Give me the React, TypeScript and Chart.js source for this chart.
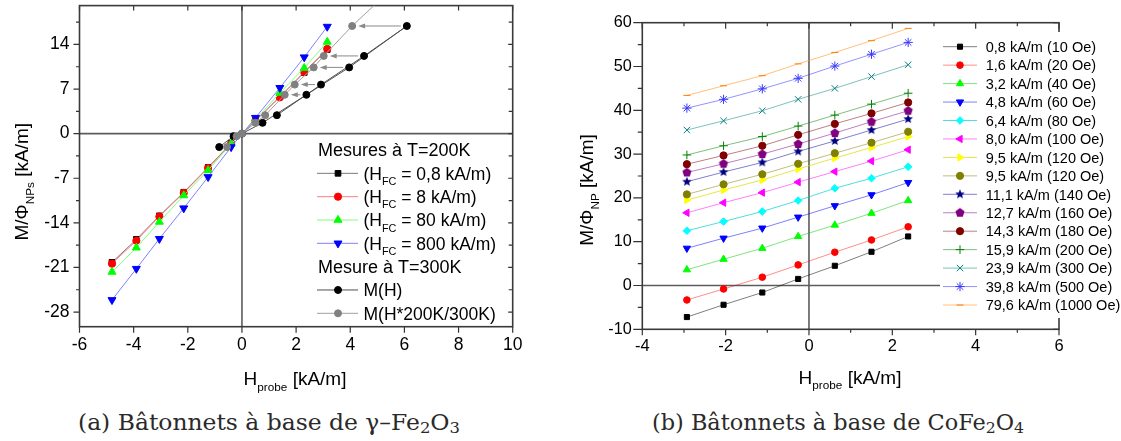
import React, { useEffect, useLayoutEffect, useRef } from 'react';
import { Chart, registerables } from 'chart.js';
import { drawPoint } from 'chart.js/helpers';

Chart.register(...registerables);

const SANS = "'Liberation Sans', Arial, sans-serif";
const SERIF = "'DejaVu Serif', serif";

// ---------------- (a) gamma-Fe2O3 data ----------------
const aX200 = [-4.8, -3.9, -3.05, -2.15, -1.25, -0.4, 0.5, 1.4, 2.3, 3.15];
const aHfc08 = [-20.2, -16.6, -12.9, -9.2, -5.3, -1.5, 2.0, 5.8, 9.6, 13.2];
const aHfc8 = [-20.4, -16.8, -13.0, -9.3, -5.4, -1.6, 2.1, 5.7, 9.7, 13.3];
const aHfc80 = [-21.7, -17.9, -13.85, -9.7, -5.75, -1.6, 2.2, 6.4, 10.3, 14.4];
const aHfc800 = [-26.1, -21.2, -16.5, -11.7, -6.8, -2.1, 2.5, 7.2, 12.0, 16.8];
const aHfcLabels = ['0,8 kA/m)', '8 kA/m)', '80 kA/m)', '800 kA/m)'];
const aMH_X = [-0.84, -0.31, 0, 0.76, 2.38, 3.96, 6.09, 4.51, 2.92, 1.29];
const aMH_Y = [-2.1, -0.4, 0, 1.7, 6.1, 10.4, 16.9, 12.2, 7.7, 2.9];
const aMHs_X = [-0.55, -0.2, 0, 0.5, 0.86, 1.58, 1.95, 2.65, 3.02, 4.07, 5.3];
const aMHs_Y = [-2.1, -0.4, 0, 1.7, 2.9, 6.1, 7.7, 10.4, 12.2, 16.9, 21.8];
const aArrowY = [16.9, 12.2, 10.4, 7.7, 6.1];
const aArrowFrom = [6.09, 4.51, 3.96, 2.92, 2.38];
const aArrowTo = [4.07, 3.02, 2.65, 1.95, 1.58];
const aXTicks = [-6, -4, -2, 0, 2, 4, 6, 8, 10];
const aYTicks = [-28, -21, -14, -7, 0, 7, 14];
const aYMinor = [-24.5, -17.5, -10.5, -3.5, 3.5, 10.5, 17.5];

// ---------------- (b) CoFe2O4 data ----------------
const bX = [-2.93, -2.05, -1.12, -0.26, 0.62, 1.5, 2.38];
const b08 = [-7.2, -4.4, -1.6, 1.5, 4.5, 7.7, 11.2];
const b16 = [-3.3, -0.8, 1.9, 4.7, 7.6, 10.4, 13.4];
const b32 = [3.6, 6.0, 8.5, 11.2, 13.8, 16.5, 19.4];
const b48 = [8.5, 10.8, 13.1, 15.6, 18.2, 20.7, 23.5];
const b64 = [12.5, 14.6, 16.9, 19.4, 22.2, 24.5, 27.1];
const b80 = [16.6, 18.9, 21.2, 23.6, 26.0, 28.4, 31.0];
const b95a = [19.5, 21.8, 24.1, 26.6, 29.1, 31.5, 34.0];
const b95b = [20.8, 23.1, 25.4, 27.8, 30.2, 32.6, 35.1];
const b111 = [23.7, 25.9, 28.1, 30.6, 33.0, 35.5, 38.0];
const b127 = [25.8, 27.8, 30.0, 32.3, 34.8, 37.4, 39.9];
const b143 = [27.7, 29.7, 31.9, 34.4, 36.9, 39.3, 41.8];
const b159 = [29.8, 31.9, 34.0, 36.4, 38.9, 41.4, 43.9];
const b239 = [35.5, 37.6, 39.9, 42.5, 45.0, 47.7, 50.4];
const b398 = [40.5, 42.5, 44.9, 47.3, 50.1, 52.8, 55.5];
const b796 = [43.4, 45.6, 47.9, 50.6, 53.2, 55.9, 58.7];
const bLabels = [
  '0,8 kA/m (10 Oe)', '1,6 kA/m (20 Oe)', '3,2 kA/m (40 Oe)', '4,8 kA/m (60 Oe)',
  '6,4 kA/m (80 Oe)', '8,0 kA/m (100 Oe)', '9,5 kA/m (120 Oe)', '9,5 kA/m (120 Oe)',
  '11,1 kA/m (140 Oe)', '12,7 kA/m (160 Oe)', '14,3 kA/m (180 Oe)', '15,9 kA/m (200 Oe)',
  '23,9 kA/m (300 Oe)', '39,8 kA/m (500 Oe)', '79,6 kA/m (1000 Oe)',
];
const bXTicks = [-4, -2, 0, 2, 4, 6];
const bXMinor = [-3, -1, 1, 3, 5];
const bYTicks = [-10, 0, 10, 20, 30, 40, 50, 60];
const bYMinor = [-5, 5, 15, 25, 35, 45, 55];

// ---------------- helpers ----------------
type Part = { t: string; sub?: boolean };

function richWidth(ctx: CanvasRenderingContext2D, parts: Part[], size: number) {
  let w = 0;
  for (const p of parts) {
    ctx.font = `${p.sub ? size * 0.62 : size}px ${SANS}`;
    w += ctx.measureText(p.t).width;
  }
  return w;
}

function drawRich(ctx: CanvasRenderingContext2D, parts: Part[], x: number, y: number, size: number, align: 'left' | 'center') {
  const w = richWidth(ctx, parts, size);
  let cx = align === 'center' ? x - w / 2 : x;
  ctx.textAlign = 'left';
  ctx.textBaseline = 'alphabetic';
  for (const p of parts) {
    const s = p.sub ? size * 0.62 : size;
    ctx.font = `${s}px ${SANS}`;
    ctx.fillText(p.t, cx, y + (p.sub ? size * 0.3 : 0));
    cx += ctx.measureText(p.t).width;
  }
}

function makeShape(color: string, n: number, outer: number, inner: number | null) {
  const c = document.createElement('canvas');
  const s = Math.ceil(outer * 2 + 2);
  c.width = s;
  c.height = s;
  const g = c.getContext('2d')!;
  g.fillStyle = color;
  g.beginPath();
  const count = inner ? n * 2 : n;
  for (let k = 0; k < count; k++) {
    const r = inner ? (k % 2 ? inner : outer) : outer;
    const ang = -Math.PI / 2 + (k * 2 * Math.PI) / count;
    const px = s / 2 + r * Math.cos(ang);
    const py = s / 2 + r * Math.sin(ang);
    if (k === 0) g.moveTo(px, py); else g.lineTo(px, py);
  }
  g.closePath();
  g.fill();
  return c;
}

type TickCfg = {
  xMaj: number[]; xMin: number[]; yMaj: number[]; yMin: number[];
  xOut: [number, number]; xIn: [number, number]; yOut: [number, number]; yIn: [number, number];
};

function axesPlugin(t: TickCfg) {
  return {
    id: 'axesDeco',
    beforeDatasetsDraw(chart: any) {
      const { ctx, chartArea: a } = chart;
      const xs = chart.scales.x;
      const ys = chart.scales.y;
      ctx.save();
      ctx.strokeStyle = '#5c5c5c';
      ctx.lineWidth = 1.6;
      const x0 = xs.getPixelForValue(0);
      const y0 = ys.getPixelForValue(0);
      ctx.beginPath();
      ctx.moveTo(x0, a.top); ctx.lineTo(x0, a.bottom);
      ctx.moveTo(a.left, y0); ctx.lineTo(a.right, y0);
      ctx.stroke();
      ctx.strokeStyle = '#333';
      ctx.lineWidth = 1.2;
      ctx.beginPath();
      const vx = (v: number, o: number, i: number) => {
        const p = xs.getPixelForValue(v);
        ctx.moveTo(p, a.bottom); ctx.lineTo(p, a.bottom + o);
        ctx.moveTo(p, a.top); ctx.lineTo(p, a.top + i);
      };
      const hy = (v: number, o: number, i: number) => {
        const p = ys.getPixelForValue(v);
        ctx.moveTo(a.left, p); ctx.lineTo(a.left - o, p);
        ctx.moveTo(a.right, p); ctx.lineTo(a.right - i, p);
      };
      t.xMaj.forEach((v) => vx(v, t.xOut[0], t.xIn[0]));
      t.xMin.forEach((v) => vx(v, t.xOut[1], t.xIn[1]));
      t.yMaj.forEach((v) => hy(v, t.yOut[0], t.yIn[0]));
      t.yMin.forEach((v) => hy(v, t.yOut[1], t.yIn[1]));
      ctx.stroke();
      ctx.strokeStyle = '#3a3a3a';
      ctx.lineWidth = 1.6;
      ctx.strokeRect(a.left, a.top, a.right - a.left, a.bottom - a.top);
      ctx.restore();
    },
  };
}

function titlesPlugin(xParts: Part[], xc: number, xb: number, yParts: Part[], yb: number, yc: number, size: number) {
  return {
    id: 'titles',
    afterDraw(chart: any) {
      const ctx = chart.ctx as CanvasRenderingContext2D;
      ctx.save();
      ctx.fillStyle = '#000';
      drawRich(ctx, xParts, xc, xb, size, 'center');
      ctx.translate(yb, yc);
      ctx.rotate(-Math.PI / 2);
      drawRich(ctx, yParts, 0, 0, size, 'center');
      ctx.restore();
    },
  };
}

function marker(ctx: CanvasRenderingContext2D, ds: any, x: number, y: number) {
  ctx.fillStyle = ds.pointBackgroundColor;
  ctx.strokeStyle = ds.pointBorderColor;
  ctx.lineWidth = ds.pointBorderWidth;
  drawPoint(ctx as any, {
    pointStyle: ds.pointStyle,
    rotation: ds.pointRotation || 0,
    radius: ds.pointRadius,
    borderWidth: ds.pointBorderWidth,
  } as any, x, y);
}

const pts = (xs: number[], ys: number[]) => xs.map((x, i) => ({ x, y: ys[i] }));

function mkDs(label: string, data: any[], color: string, line: string, ps: any, r: number, rot: number, order: number) {
  return {
    label, data, showLine: true, borderColor: line, borderWidth: 1, tension: 0, fill: false,
    pointStyle: ps, pointRadius: r, pointHoverRadius: r, pointRotation: rot,
    pointBackgroundColor: color, pointBorderColor: color, pointBorderWidth: 1, order,
  };
}

const fixX = (h: number) => (s: any) => { s.height = h; s.paddingLeft = 0; s.paddingRight = 0; s.paddingTop = 0; s.paddingBottom = 0; };
const fixY = (w: number) => (s: any) => { s.width = w; s.paddingLeft = 0; s.paddingRight = 0; s.paddingTop = 0; s.paddingBottom = 0; };

// ---------------- chart (a) ----------------
function buildA() {
  const hfcSeries = [aHfc08, aHfc8, aHfc80, aHfc800];
  const sty = [
    { c: '#000000', l: '#7a7a7a', ps: 'rect', r: 4.0, rot: 0 },
    { c: '#ff0000', l: '#ff7f7f', ps: 'circle', r: 3.6, rot: 0 },
    { c: '#00ff00', l: '#80ff80', ps: 'triangle', r: 4.6, rot: 0 },
    { c: '#0000ff', l: '#8080ff', ps: 'triangle', r: 4.6, rot: 180 },
  ];
  const datasets: any[] = hfcSeries.map((ys, i) =>
    mkDs(aHfcLabels[i], pts(aX200, ys), sty[i].c, sty[i].l, sty[i].ps, sty[i].r, sty[i].rot, -i));
  datasets.push(mkDs('M(H)', pts(aMH_X, aMH_Y), '#000000', '#505050', 'circle', 3.5, 0, -4));
  datasets.push(mkDs('M(H*200K/300K)', pts(aMHs_X, aMHs_Y), '#808080', '#a0a0a0', 'circle', 3.5, 0, -5));

  const arrows = {
    id: 'arrows',
    beforeDatasetsDraw(chart: any) {
      const ctx = chart.ctx as CanvasRenderingContext2D;
      const xs = chart.scales.x, ys = chart.scales.y;
      ctx.save();
      ctx.strokeStyle = '#8a8a8a';
      ctx.fillStyle = '#8a8a8a';
      ctx.lineWidth = 1;
      aArrowY.forEach((yv, i) => {
        const y = ys.getPixelForValue(yv);
        const x1 = xs.getPixelForValue(aArrowFrom[i]) - 6;
        const x2 = xs.getPixelForValue(aArrowTo[i]) + 6;
        ctx.beginPath(); ctx.moveTo(x1, y); ctx.lineTo(x2 + 4, y); ctx.stroke();
        ctx.beginPath(); ctx.moveTo(x2, y); ctx.lineTo(x2 + 7, y - 2.5); ctx.lineTo(x2 + 7, y + 2.5); ctx.closePath(); ctx.fill();
      });
      ctx.restore();
    },
  };

  const legend = {
    id: 'legendA',
    afterDraw(chart: any) {
      const ctx = chart.ctx as CanvasRenderingContext2D;
      const ds = chart.data.datasets;
      const size = 17.5;
      const items: { header?: string; i?: number; parts?: Part[] }[] = [
        { header: 'Mesures à T=200K' },
        ...aHfcLabels.map((l, i) => ({ i, parts: [{ t: '(H' }, { t: 'FC', sub: true }, { t: ' = ' + l }] as Part[] })),
        { header: 'Mesure à T=300K' },
        { i: 4, parts: [{ t: ds[4].label }] },
        { i: 5, parts: [{ t: ds[5].label }] },
      ];
      ctx.save();
      items.forEach((it, k) => {
        const cy = 150 + k * 23.33;
        ctx.fillStyle = '#000';
        if (it.header) {
          drawRich(ctx, [{ t: it.header }], 318, cy + 6.4, 18, 'left');
          return;
        }
        const d = ds[it.i!];
        ctx.strokeStyle = d.borderColor;
        ctx.lineWidth = 1;
        ctx.beginPath(); ctx.moveTo(317, cy); ctx.lineTo(358, cy); ctx.stroke();
        marker(ctx, d, 338, cy);
        ctx.fillStyle = '#000';
        drawRich(ctx, it.parts!, 363.5, cy + 6.3, size, 'left');
      });
      ctx.restore();
    },
  };

  return {
    type: 'scatter',
    data: { datasets },
    options: {
      animation: false, responsive: false, devicePixelRatio: 1,
      layout: { padding: { left: 0, top: 5, right: 47.3, bottom: 0 } },
      plugins: { legend: { display: false }, tooltip: { enabled: false } },
      scales: {
        x: {
          type: 'linear', position: 'bottom', min: -6, max: 10,
          afterBuildTicks: (s: any) => { s.ticks = aXTicks.map((v) => ({ value: v })); },
          afterFit: fixX(73.3),
          ticks: { padding: 8, color: '#000', font: { family: SANS, size: 17.5 }, maxRotation: 0, autoSkip: false, callback: (v: any) => String(v) },
          grid: { display: false, drawTicks: false }, border: { display: false },
        },
        y: {
          type: 'linear', position: 'left', min: -30.3, max: 20.1,
          afterBuildTicks: (s: any) => { s.ticks = aYTicks.map((v) => ({ value: v })); },
          afterFit: fixY(79.5),
          ticks: { padding: 10, color: '#000', font: { family: SANS, size: 17.5 }, autoSkip: false, callback: (v: any) => String(v) },
          grid: { display: false, drawTicks: false }, border: { display: false },
        },
      },
    },
    plugins: [
      axesPlugin({ xMaj: aXTicks, xMin: [], yMaj: aYTicks, yMin: aYMinor, xOut: [6, 3.5], xIn: [5, 3], yOut: [6, 3.5], yIn: [4.5, 4] }),
      arrows,
      legend,
      titlesPlugin([{ t: 'H' }, { t: 'probe', sub: true }, { t: ' [kA/m]' }], 295, 385,
        [{ t: 'M/Φ' }, { t: 'NPs', sub: true }, { t: ' [kA/m]' }], 28, 181.7, 19),
    ],
  } as any;
}

// ---------------- chart (b) ----------------
function buildB() {
  const series = [b08, b16, b32, b48, b64, b80, b95a, b95b, b111, b127, b143, b159, b239, b398, b796];
  const star = makeShape('#000080', 5, 5, 2.2);
  const pent = makeShape('#800080', 5, 4.8, null);
  const sty: { c: string; l: string; ps: any; r: number; rot?: number }[] = [
    { c: '#000000', l: 'rgba(0,0,0,0.5)', ps: 'rect', r: 3.6 },
    { c: '#ff0000', l: 'rgba(255,0,0,0.45)', ps: 'circle', r: 3.3 },
    { c: '#00ff00', l: 'rgba(0,200,0,0.5)', ps: 'triangle', r: 4.2 },
    { c: '#0000ff', l: 'rgba(0,0,255,0.5)', ps: 'triangle', r: 4.2, rot: 180 },
    { c: '#00ffff', l: 'rgba(0,210,210,0.7)', ps: 'rectRot', r: 3.8 },
    { c: '#ff00ff', l: 'rgba(255,0,255,0.5)', ps: 'triangle', r: 4.2, rot: -90 },
    { c: '#ffff00', l: 'rgba(220,220,0,0.7)', ps: 'triangle', r: 4.2, rot: 90 },
    { c: '#808000', l: 'rgba(128,128,0,0.5)', ps: 'circle', r: 3.6 },
    { c: '#000080', l: 'rgba(0,0,160,0.5)', ps: star, r: 5 },
    { c: '#800080', l: 'rgba(128,0,128,0.5)', ps: pent, r: 5 },
    { c: '#800000', l: 'rgba(128,0,0,0.5)', ps: 'circle', r: 3.6 },
    { c: '#008000', l: 'rgba(0,128,0,0.5)', ps: 'cross', r: 4.3 },
    { c: '#008080', l: 'rgba(0,128,128,0.5)', ps: 'crossRot', r: 4.5 },
    { c: '#3a3aff', l: 'rgba(58,58,255,0.55)', ps: 'star', r: 4.6 },
    { c: '#ff8000', l: 'rgba(255,150,40,0.6)', ps: 'line', r: 3.5 },
  ];
  const datasets = series.map((ys, i) =>
    mkDs(bLabels[i], pts(bX, ys), sty[i].c, sty[i].l, sty[i].ps, sty[i].r, sty[i].rot || 0, -i));

  const legend = {
    id: 'legendB',
    afterDraw(chart: any) {
      const ctx = chart.ctx as CanvasRenderingContext2D;
      const ds = chart.data.datasets;
      ctx.save();
      ctx.fillStyle = '#ffffff';
      ctx.fillRect(380, 32, 181, 286);
      ds.forEach((d: any, i: number) => {
        const cy = 46.7 + i * 18.45;
        ctx.strokeStyle = d.borderColor;
        ctx.lineWidth = 1;
        ctx.beginPath(); ctx.moveTo(383, cy); ctx.lineTo(417, cy); ctx.stroke();
        marker(ctx, d, 400, cy);
        ctx.fillStyle = '#000';
        drawRich(ctx, [{ t: d.label }], 425.7, cy + 5.2, 14.5, 'left');
      });
      ctx.restore();
    },
  };

  return {
    type: 'scatter',
    data: { datasets },
    options: {
      animation: false, responsive: false, devicePixelRatio: 1,
      layout: { padding: { left: 0, top: 22.7, right: 62, bottom: 0 } },
      plugins: { legend: { display: false }, tooltip: { enabled: false } },
      scales: {
        x: {
          type: 'linear', position: 'bottom', min: -4, max: 6,
          afterBuildTicks: (s: any) => { s.ticks = bXTicks.map((v) => ({ value: v })); },
          afterFit: fixX(70.7),
          ticks: { padding: 7, color: '#000', font: { family: SANS, size: 16.5 }, maxRotation: 0, autoSkip: false, callback: (v: any) => String(v) },
          grid: { display: false, drawTicks: false }, border: { display: false },
        },
        y: {
          type: 'linear', position: 'left', min: -10, max: 60,
          afterBuildTicks: (s: any) => { s.ticks = bYTicks.map((v) => ({ value: v })); },
          afterFit: fixY(82.3),
          ticks: { padding: 10.6, color: '#000', font: { family: SANS, size: 16.2 }, autoSkip: false, callback: (v: any) => String(v) },
          grid: { display: false, drawTicks: false }, border: { display: false },
        },
      },
    },
    plugins: [
      axesPlugin({ xMaj: bXTicks, xMin: bXMinor, yMaj: bYTicks, yMin: bYMinor, xOut: [6, 3.5], xIn: [6, 3.5], yOut: [9, 4.5], yIn: [6, 3.5] }),
      legend,
      titlesPlugin([{ t: 'H' }, { t: 'probe', sub: true }, { t: ' [kA/m]' }], 290, 383.5,
        [{ t: 'M/Φ' }, { t: 'NP', sub: true }, { t: ' [kA/m]' }], 33, 190, 19),
    ],
  } as any;
}

function ChartCanvas({ build, left, width }: { build: () => any; left: number; width: number }) {
  const ref = useRef<HTMLCanvasElement>(null);
  useEffect(() => {
    const chart = new Chart(ref.current!, build());
    return () => chart.destroy();
  }, []);
  return (
    <canvas ref={ref} width={width} height={400}
      style={{ position: 'absolute', left, top: 0, width, height: 400 }} />
  );
}

function Caption({ left, width, children }: { left: number; width: number; children: React.ReactNode }) {
  const ref = useRef<HTMLSpanElement>(null);
  useLayoutEffect(() => {
    const el = ref.current!;
    el.style.transform = 'none';
    const w = el.getBoundingClientRect().width;
    if (w > 0) el.style.transform = `scaleX(${width / w})`;
  }, [width]);
  return (
    <span ref={ref} style={{
      position: 'absolute', left, top: 411, fontFamily: SERIF, fontSize: 22, lineHeight: '23px',
      whiteSpace: 'nowrap', transformOrigin: '0 0', color: '#2a2a2a',
    }}>{children}</span>
  );
}

const subStyle: React.CSSProperties = { fontSize: '0.7em', verticalAlign: '-0.22em' };

export default function App() {
  return (
    <div style={{ position: 'fixed', left: 0, top: 0, width: 1121, height: 441, background: '#fff', overflow: 'hidden' }}>
      <ChartCanvas build={buildA} left={0} width={560} />
      <ChartCanvas build={buildB} left={560} width={561} />
      <Caption left={78.3} width={382}>
        (a) Bâtonnets à base de γ–Fe<span style={subStyle}>2</span>O<span style={subStyle}>3</span>
      </Caption>
      <Caption left={651.7} width={372}>
        (b) Bâtonnets à base de CoFe<span style={subStyle}>2</span>O<span style={subStyle}>4</span>
      </Caption>
    </div>
  );
}
